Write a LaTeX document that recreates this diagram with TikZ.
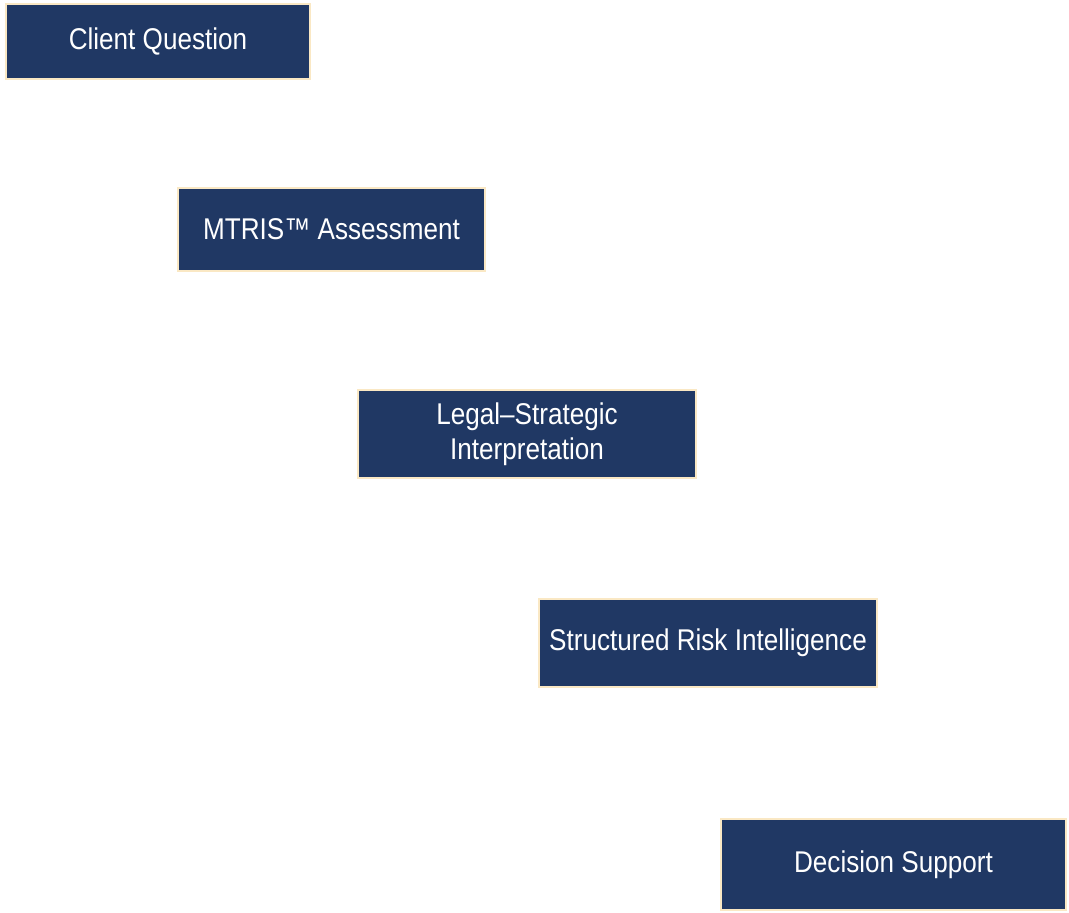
\documentclass[tikz,border=0pt]{standalone}
\usepackage{fontspec}
\setmainfont[FakeStretch=0.87]{Liberation Sans}
\definecolor{boxfill}{RGB}{32,56,100}
\definecolor{boxedge}{RGB}{250,232,196}
\begin{document}
\begin{tikzpicture}[x=1pt,y=-1pt,
  stage/.style={draw=boxedge, line width=2pt, fill=boxfill, text=white,
    inner sep=0pt, align=center, font=\fontsize{30}{35}\selectfont}]
\useasboundingbox (0,0) rectangle (1069,913);
\node[stage, minimum width=304pt, minimum height=75pt] (q) at (158,41.5) {Client Question};
\node[stage, minimum width=307pt, minimum height=83pt] (m) at (331.5,229.5) {MTRIS™ Assessment};
\node[stage, minimum width=338pt, minimum height=88pt] (l) at (527,434) {Legal–Strategic\\Interpretation};
\node[stage, minimum width=338pt, minimum height=88pt] (s) at (708,643) {Structured Risk Intelligence};
\node[stage, minimum width=345pt, minimum height=91pt] (d) at (893.5,864.5) {Decision Support};
\end{tikzpicture}
\end{document}
